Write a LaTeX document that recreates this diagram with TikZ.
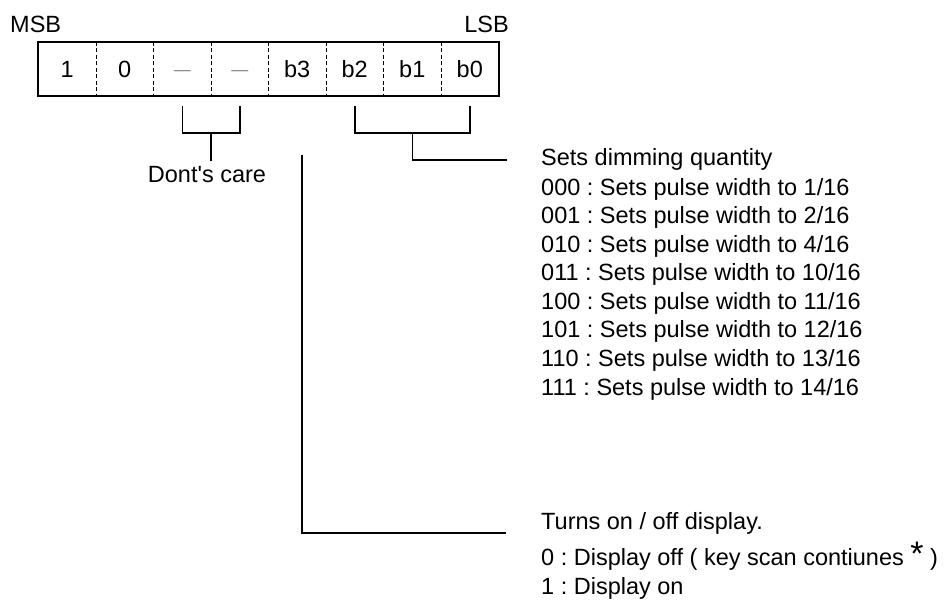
\documentclass[tikz,border=0pt]{standalone}
\usepackage{fontspec}
\setmainfont{Liberation Sans}[Ligatures=TeXOff]
\frenchspacing
\begin{document}
\begin{tikzpicture}[x=1pt,y=-1pt,
  every node/.style={font=\fontsize{23.5}{28}\selectfont, inner sep=0pt},
  cell/.style={minimum width=57.5pt, minimum height=54pt, text height=16.8pt, text depth=0pt},
  txt/.style={anchor=base west},
  wire/.style={line width=1.5pt},
  dashcol/.style={line width=1.3pt, dash pattern=on 4pt off 2.5pt},
  dcap/.style={text=gray}]
\useasboundingbox (0,0) rectangle (948,603);
% bit cells
\node[cell] (c0) at (67.25,69) {1};
\node[cell] (c1) at (124.75,69) {0};
\node[cell,dcap] (c2) at (182.25,69) {\fontsize{17}{17}\selectfont\raisebox{2pt}{—}};
\node[cell,dcap] (c3) at (239.75,69) {\fontsize{17}{17}\selectfont\raisebox{2pt}{—}};
\node[cell] (c4) at (297.25,69) {b3};
\node[cell] (c5) at (354.75,69) {b2};
\node[cell] (c6) at (412.25,69) {b1};
\node[cell] (c7) at (469.75,69) {b0};
\draw[line width=1.8pt] (c0.north west) rectangle (c7.south east);
\foreach \i in {0,...,6}{\draw[dashcol] (c\i.north east) -- (c\i.south east);}
% MSB / LSB
\node[anchor=base west] (msb) at (10,32) {MSB};
\node[anchor=base east] (lsb) at (509,32) {LSB};
% dont care bracket
\coordinate (dlt) at (182.25,106);
\coordinate (dlb) at (182.25,133);
\coordinate (drb) at (239.75,133);
\coordinate (drt) at (239.75,106);
\coordinate (dmid) at (211,133);
\draw[wire] (dlt) -- (dlb) -- (drb) -- (drt);
\node[anchor=base, inner sep=4.5pt] (dont) at (207,182) {Dont's care};
\draw[wire] (dmid) -- (dmid |- dont.north);
% dimming bracket
\coordinate (blt) at (354.75,106);
\coordinate (blb) at (354.75,133);
\coordinate (brb) at (469.75,133);
\coordinate (brt) at (469.75,106);
\coordinate (bmid) at (412.25,133);
\coordinate (bend) at (507,160);
\draw[wire] (blt) -- (blb) -- (brb) -- (brt);
\draw[wire] (bmid) |- (bend);
% display bit line
\coordinate (vtop) at (302,155);
\coordinate (vend) at (506,533);
\draw[wire] (vtop) |- (vend);
% dimming text
\node[txt] (dimhead) at (541,165) {Sets dimming quantity};
\node[txt] (d0) at (541,195) {000 : Sets pulse width to 1/16};
\node[txt] (d1) at (541,223.57) {001 : Sets pulse width to 2/16};
\node[txt] (d2) at (541,252.14) {010 : Sets pulse width to 4/16};
\node[txt] (d3) at (541,280.71) {011 : Sets pulse width to 10/16};
\node[txt] (d4) at (541,309.29) {100 : Sets pulse width to 11/16};
\node[txt] (d5) at (541,337.86) {101 : Sets pulse width to 12/16};
\node[txt] (d6) at (541,366.43) {110 : Sets pulse width to 13/16};
\node[txt] (d7) at (541,395) {111 : Sets pulse width to 14/16};
% display text
\node[txt] (disphead) at (541,529) {Turns on / off display.};
\node[txt] (disp0) at (541,565) {0 : Display off ( key scan contiunes {\fontsize{34}{34}\selectfont *} )};
\node[txt] (disp1) at (541,594) {1 : Display on};
\end{tikzpicture}
\end{document}
